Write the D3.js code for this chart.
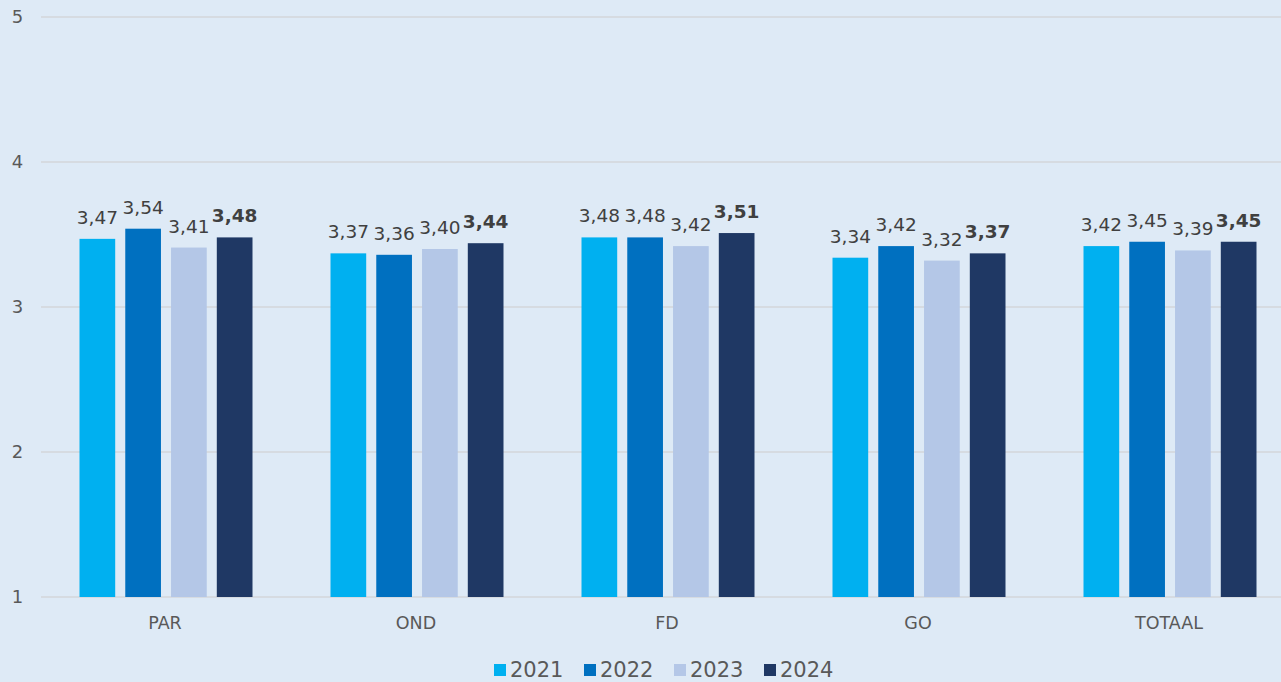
<!DOCTYPE html>
<html><head><meta charset="utf-8">
<script src="https://cdn.jsdelivr.net/npm/d3@7"></script>
<style>
html,body{margin:0;padding:0;background:#DEEAF6;}
svg{display:block;font-family:"DejaVu Sans",Verdana,sans-serif;}
</style></head>
<body>
<svg id="chart" width="1281" height="682"></svg>
<script>
const categories = ["PAR","OND","FD","GO","TOTAAL"];
const years = ["2021","2022","2023","2024"];
const v2021 = [3.47,3.37,3.48,3.34,3.42];
const v2022 = [3.54,3.36,3.48,3.42,3.45];
const v2023 = [3.41,3.40,3.42,3.32,3.39];
const v2024 = [3.48,3.44,3.51,3.37,3.45];
const yTicks = [1,2,3,4,5];
const colors = ["#00B0F0","#0070C0","#B4C7E7","#1F3864"];

const series = [v2021,v2022,v2023,v2024];
const svg = d3.select("#chart");
const W = 1281, H = 682;
svg.append("rect").attr("width",W).attr("height",H).attr("fill","#DEEAF6");

const x0 = d3.scaleBand().domain(categories).range([40.5,1295.5]).paddingInner(0).paddingOuter(0);
const x1 = d3.scaleBand().domain(years).range([39,212]).paddingInner(0.22).paddingOuter(0);
const y = d3.scaleLinear().domain([1,5]).range([597,17]);

// gridlines
svg.append("g").selectAll("line").data(yTicks).join("line")
  .attr("x1",41).attr("x2",W).attr("y1",d=>y(d)).attr("y2",d=>y(d))
  .attr("stroke","#D3D6DA").attr("stroke-width",1.5);

// y labels
svg.append("g").selectAll("text").data(yTicks).join("text")
  .attr("x",17.5).attr("y",d=>y(d)).attr("dy","0.36em").attr("text-anchor","middle")
  .attr("font-size",18).attr("fill","#595959").text(d=>d);

// bars
const fmt = d => d.toFixed(2).replace(".",",");
categories.forEach((c,ci)=>{
  const g = svg.append("g").attr("transform",`translate(${x0(c)},0)`);
  years.forEach((yr,si)=>{
    const v = series[si][ci];
    g.append("rect").attr("x",x1(yr)).attr("width",x1.bandwidth())
      .attr("y",y(v)).attr("height",y(1)-y(v)).attr("fill",colors[si]);
    g.append("text").attr("x",x1(yr)+x1.bandwidth()/2).attr("y",y(v)-15)
      .attr("text-anchor","middle").attr("font-size",18.5)
      .attr("font-weight",si===3?"bold":"normal")
      .attr("fill","#404040").text(fmt(v));
  });
});

// x labels
svg.append("g").selectAll("text").data(categories).join("text")
  .attr("x",d=>x0(d)+x0.bandwidth()/2-1).attr("y",629).attr("text-anchor","middle")
  .attr("font-size",17.5).attr("fill","#595959").text(d=>d);

// legend
const lg = svg.append("g");
years.forEach((yr,i)=>{
  const lx = 494 + i*90;
  lg.append("rect").attr("x",lx).attr("y",664).attr("width",12).attr("height",12).attr("fill",colors[i]);
  lg.append("text").attr("x",lx+16).attr("y",677).attr("font-size",21).attr("fill","#595959").text(yr);
});
</script>
</body></html>
